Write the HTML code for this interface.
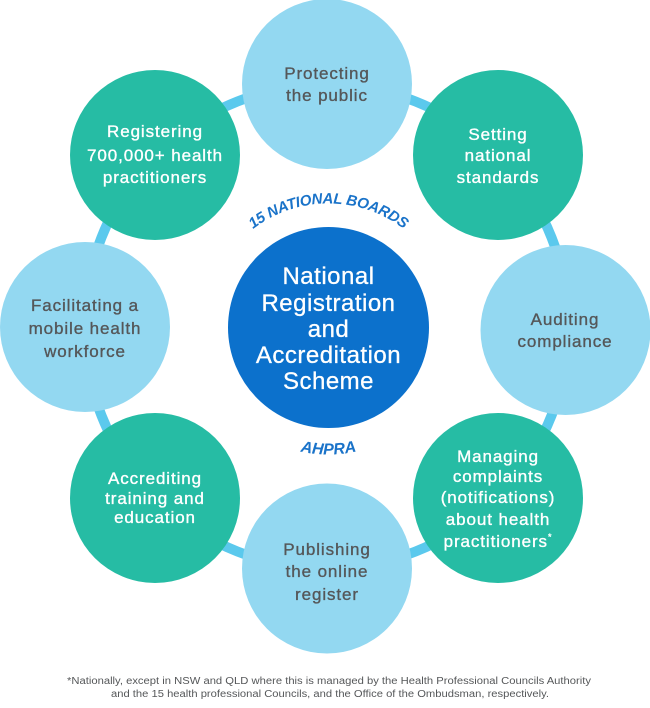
<!DOCTYPE html>
<html>
<head>
<meta charset="utf-8">
<style>
  html, body { margin: 0; padding: 0; background: #ffffff; }
  body { width: 650px; height: 708px; overflow: hidden; }
  svg { display: block; }
  .t { font-family: "Liberation Sans", sans-serif; font-size: 17px; letter-spacing: 0.9px; text-anchor: middle; stroke-width: 0.35px; }
  .w { fill: #ffffff; stroke: #ffffff; }
  .d { fill: #555759; stroke: #555759; }
  .c { font-family: "Liberation Sans", sans-serif; font-size: 24px; letter-spacing: 0.5px; text-anchor: middle; fill: #ffffff; stroke: #ffffff; stroke-width: 0.3px; }
  .lbl { font-family: "Liberation Sans", sans-serif; font-weight: bold; font-style: italic; fill: #1a73c9; }
  .f { font-family: "Liberation Sans", sans-serif; font-size: 10px; fill: #555759; text-anchor: middle; }
</style>
</head>
<body>
<svg width="650" height="708" viewBox="0 0 650 708" xmlns="http://www.w3.org/2000/svg">
  <defs>
    <path id="arcTop" d="M242.3,238.3 A124,124 0 0 1 414.7,238.3"/>
    <path id="arcBot" d="M265,437.5 A127,127 0 0 0 392,437.5"/>
  </defs>

  <!-- ring -->
  <circle cx="326.5" cy="326.5" r="242" fill="none" stroke="#5bc9ed" stroke-width="10"/>

  <!-- outer circles -->
  <circle cx="327" cy="84" r="85" fill="#93d8f1"/>
  <circle cx="498" cy="155" r="85" fill="#26bca4"/>
  <circle cx="565.5" cy="330" r="85" fill="#93d8f1"/>
  <circle cx="498" cy="498" r="85" fill="#26bca4"/>
  <circle cx="327" cy="568.5" r="85" fill="#93d8f1"/>
  <circle cx="155" cy="498" r="85" fill="#26bca4"/>
  <circle cx="85" cy="327" r="85" fill="#93d8f1"/>
  <circle cx="155" cy="155" r="85" fill="#26bca4"/>

  <!-- central circle -->
  <circle cx="328.5" cy="327.5" r="100.5" fill="#0c71cc"/>

  <!-- Protecting -->
  <text class="t d" x="327" y="79">Protecting</text>
  <text class="t d" x="327" y="101">the public</text>

  <!-- Setting -->
  <text class="t w" x="498" y="140">Setting</text>
  <text class="t w" x="498" y="161">national</text>
  <text class="t w" x="498" y="183">standards</text>

  <!-- Auditing -->
  <text class="t d" x="565" y="325">Auditing</text>
  <text class="t d" x="565" y="347">compliance</text>

  <!-- Managing -->
  <text class="t w" x="498" y="462">Managing</text>
  <text class="t w" x="498" y="482">complaints</text>
  <text class="t w" x="498" y="503">(notifications)</text>
  <text class="t w" x="498" y="525">about health</text>
  <text class="t w" x="498" y="547">practitioners<tspan font-size="9" dy="-7">*</tspan></text>

  <!-- Publishing -->
  <text class="t d" x="327" y="555">Publishing</text>
  <text class="t d" x="327" y="577">the online</text>
  <text class="t d" x="327" y="600">register</text>

  <!-- Accrediting -->
  <text class="t w" x="155" y="484">Accrediting</text>
  <text class="t w" x="155" y="504">training and</text>
  <text class="t w" x="155" y="523">education</text>

  <!-- Facilitating -->
  <text class="t d" x="85" y="311">Facilitating a</text>
  <text class="t d" x="85" y="334">mobile health</text>
  <text class="t d" x="85" y="357">workforce</text>

  <!-- Registering -->
  <text class="t w" x="155" y="137">Registering</text>
  <text class="t w" x="155" y="161">700,000+ health</text>
  <text class="t w" x="155" y="183">practitioners</text>

  <!-- Central -->
  <text class="c" x="328.5" y="284">National</text>
  <text class="c" x="328.5" y="311">Registration</text>
  <text class="c" x="328.5" y="337">and</text>
  <text class="c" x="328.5" y="363">Accreditation</text>
  <text class="c" x="328.5" y="389">Scheme</text>

  <!-- curved labels -->
  <text class="lbl" font-size="15">
    <textPath href="#arcTop" startOffset="50%" text-anchor="middle" textLength="162" lengthAdjust="spacing">15 NATIONAL BOARDS</textPath>
  </text>
  <text class="lbl" font-size="16">
    <textPath href="#arcBot" startOffset="50%" text-anchor="middle">AHPRA</textPath>
  </text>

  <!-- footer -->
  <text class="f" x="329" y="684" textLength="524" lengthAdjust="spacingAndGlyphs">*Nationally, except in NSW and QLD where this is managed by the Health Professional Councils Authority</text>
  <text class="f" x="330" y="697" textLength="438" lengthAdjust="spacingAndGlyphs">and the 15 health professional Councils, and the Office of the Ombudsman, respectively.</text>
</svg>
</body>
</html>
